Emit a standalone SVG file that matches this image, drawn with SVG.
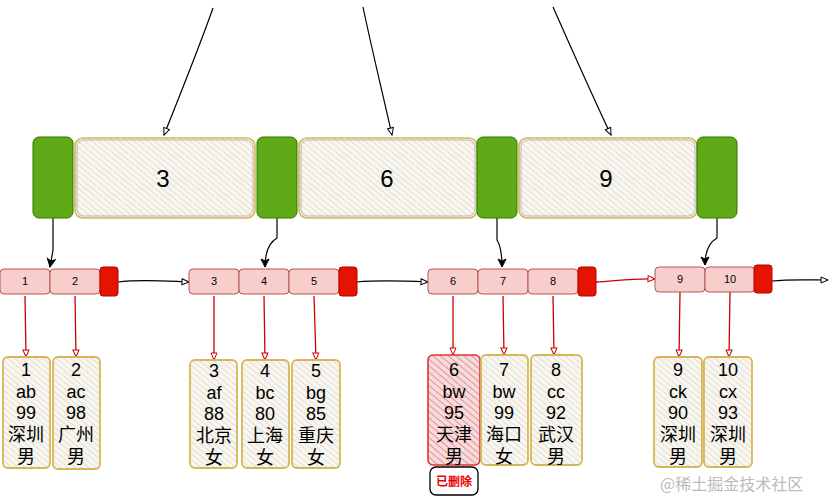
<svg xmlns="http://www.w3.org/2000/svg" width="830" height="501" viewBox="0 0 830 501">
<defs>
<pattern id="hatch" width="4.5" height="4.5" patternUnits="userSpaceOnUse" patternTransform="rotate(-50)">
<rect width="4.5" height="4.5" fill="#f8f6ee"/>
<line x1="0" y1="0" x2="0" y2="4.5" stroke="#bdbab0" stroke-width="0.8"/>
</pattern>
<pattern id="hatchRed" width="5" height="5" patternUnits="userSpaceOnUse" patternTransform="rotate(-50)">
<rect width="5" height="5" fill="#f6dcdc"/>
<line x1="0" y1="0" x2="0" y2="5" stroke="#e06a6a" stroke-width="1.3"/>
</pattern>
<marker id="ab" markerWidth="10" markerHeight="10" refX="8" refY="4" orient="auto" markerUnits="userSpaceOnUse">
<path d="M1,1 L8,4 L1,7 Z" fill="#fff" stroke="#000" stroke-width="1"/>
</marker>
<marker id="abk" markerWidth="12" markerHeight="12" refX="9" refY="5" orient="auto" markerUnits="userSpaceOnUse">
<path d="M1,1 L9,5 L1,9 L3,5 Z" fill="#000" stroke="#000" stroke-width="1"/>
</marker>
<marker id="ar" markerWidth="10" markerHeight="10" refX="8" refY="4" orient="auto" markerUnits="userSpaceOnUse">
<path d="M1,1 L8,4 L1,7 Z" fill="#fff" stroke="#c00" stroke-width="1"/>
</marker>
<style>
.green{fill:#60a917;stroke:#2d7600;stroke-width:1}
.key{fill:url(#hatch);stroke:#d6b656;stroke-width:1.6}
.keyin{fill:none;stroke:#a8a8a8;stroke-width:0.8}
.cell{fill:#f8cecc;stroke:#b85450;stroke-width:1}
.tail{fill:#e51400;stroke:#b20000;stroke-width:1}
.data{fill:url(#hatch);stroke:#d6b656;stroke-width:1.8}
.datadel{fill:url(#hatchRed);stroke:#d33;stroke-width:1.6}
.t{font-family:"Liberation Sans","Noto Sans CJK SC",sans-serif;fill:#000;text-anchor:middle}
.kt{font-size:24px}
.ct{font-size:11px}
.dt{font-size:18px}
.blk{fill:none;stroke:#000;stroke-width:1.2}
.red{fill:none;stroke:#c00;stroke-width:1.3}
</style>
</defs>
<g id="connectors">
<path class="blk" d="M213,8 C200,45 180,95 164,135" marker-end="url(#ab)"/>
<path class="blk" d="M363,7 C372,50 383,95 392,135" marker-end="url(#ab)"/>
<path class="blk" d="M553,7 C570,45 592,95 611,135" marker-end="url(#ab)"/>
<path class="blk" d="M53,218 L53,250 L50,267" marker-end="url(#abk)"/>
<path class="blk" d="M277,218 L277,238 Q265,245 265,267" marker-end="url(#abk)"/>
<path class="blk" d="M497,218 L497,240 Q502,248 502,267" marker-end="url(#abk)"/>
<path class="blk" d="M717,218 L717,238 Q705,245 705,265" marker-end="url(#abk)"/>
<path class="blk" d="M118,282 C140,279 165,281 189,282" marker-end="url(#ab)"/>
<path class="blk" d="M357,282 C380,280 405,281 428,282" marker-end="url(#ab)"/>
<path class="red" d="M596,282 C615,281 635,278 655,279" marker-end="url(#ar)"/>
<path class="blk" d="M772,281 C790,279 810,280 828,280" marker-end="url(#ab)"/>
<path class="red" d="M25,296 L26,357" marker-end="url(#ar)"/>
<path class="red" d="M75,296 L76,357" marker-end="url(#ar)"/>
<path class="red" d="M214,296 L214,360" marker-end="url(#ar)"/>
<path class="red" d="M264,296 L265,360" marker-end="url(#ar)"/>
<path class="red" d="M314,296 L316,360" marker-end="url(#ar)"/>
<path class="red" d="M453,296 L453,355" marker-end="url(#ar)"/>
<path class="red" d="M503,296 L504,355" marker-end="url(#ar)"/>
<path class="red" d="M553,296 L554,355" marker-end="url(#ar)"/>
<path class="red" d="M680,292 L679,357" marker-end="url(#ar)"/>
<path class="red" d="M730,292 L729,357" marker-end="url(#ar)"/>
</g>
<g id="inner-node">
<rect class="green" x="33" y="137" width="40" height="81" rx="6"/>
<rect class="key" x="75" y="138" width="180" height="80" rx="8"/>
<rect class="keyin" x="77" y="140" width="176" height="76" rx="7"/>
<text class="t kt" x="163" y="187">3</text>
<rect class="green" x="257" y="137" width="40" height="81" rx="6"/>
<rect class="key" x="299" y="138" width="178" height="80" rx="8"/>
<rect class="keyin" x="301" y="140" width="174" height="76" rx="7"/>
<text class="t kt" x="387" y="187">6</text>
<rect class="green" x="477" y="137" width="40" height="81" rx="6"/>
<rect class="key" x="519" y="138" width="178" height="80" rx="8"/>
<rect class="keyin" x="521" y="140" width="174" height="76" rx="7"/>
<text class="t kt" x="606" y="187">9</text>
<rect class="green" x="697" y="137" width="40" height="81" rx="6"/>
</g>
<g id="leaf1">
<rect class="cell" x="0" y="269" width="50" height="25" rx="4"/>
<text class="t ct" x="25" y="285">1</text>
<rect class="cell" x="50" y="269" width="50" height="25" rx="4"/>
<text class="t ct" x="75" y="285">2</text>
<rect class="tail" x="100" y="267" width="18" height="29" rx="3"/>
</g>
<g id="leaf2">
<rect class="cell" x="189" y="269" width="50" height="25" rx="4"/>
<text class="t ct" x="214" y="285">3</text>
<rect class="cell" x="239" y="269" width="50" height="25" rx="4"/>
<text class="t ct" x="264" y="285">4</text>
<rect class="cell" x="289" y="269" width="50" height="25" rx="4"/>
<text class="t ct" x="314" y="285">5</text>
<rect class="tail" x="339" y="267" width="18" height="29" rx="3"/>
</g>
<g id="leaf3">
<rect class="cell" x="428" y="269" width="50" height="25" rx="4"/>
<text class="t ct" x="453" y="285">6</text>
<rect class="cell" x="478" y="269" width="50" height="25" rx="4"/>
<text class="t ct" x="503" y="285">7</text>
<rect class="cell" x="528" y="269" width="50" height="25" rx="4"/>
<text class="t ct" x="553" y="285">8</text>
<rect class="tail" x="578" y="267" width="18" height="29" rx="3"/>
</g>
<g id="leaf4">
<rect class="cell" x="655" y="267" width="50" height="25" rx="4"/>
<text class="t ct" x="680" y="283">9</text>
<rect class="cell" x="705" y="267" width="50" height="25" rx="4"/>
<text class="t ct" x="730" y="283">10</text>
<rect class="tail" x="754" y="265" width="18" height="28" rx="3"/>
</g>
<g id="row1">
<rect class="data" x="3" y="357" width="47" height="111" rx="5"/>
<text class="t dt" x="26" y="376">1</text><text class="t dt" x="26" y="398">ab</text><text class="t dt" x="26" y="419">99</text><text class="t dt" x="26" y="441">深圳</text><text class="t dt" x="26" y="463">男</text>
<rect class="data" x="53" y="357" width="47" height="112" rx="5"/>
<text class="t dt" x="76" y="376">2</text><text class="t dt" x="76" y="398">ac</text><text class="t dt" x="76" y="419">98</text><text class="t dt" x="76" y="441">广州</text><text class="t dt" x="76" y="463">男</text>
</g>
<g id="row2">
<rect class="data" x="190" y="360" width="47" height="108" rx="5"/>
<text class="t dt" x="214" y="377">3</text><text class="t dt" x="214" y="399">af</text><text class="t dt" x="214" y="420">88</text><text class="t dt" x="214" y="442">北京</text><text class="t dt" x="214" y="464">女</text>
<rect class="data" x="242" y="360" width="47" height="108" rx="5"/>
<text class="t dt" x="265" y="377">4</text><text class="t dt" x="265" y="399">bc</text><text class="t dt" x="265" y="420">80</text><text class="t dt" x="265" y="442">上海</text><text class="t dt" x="265" y="464">女</text>
<rect class="data" x="292" y="360" width="48" height="108" rx="5"/>
<text class="t dt" x="316" y="377">5</text><text class="t dt" x="316" y="399">bg</text><text class="t dt" x="316" y="420">85</text><text class="t dt" x="316" y="442">重庆</text><text class="t dt" x="316" y="464">女</text>
</g>
<g id="row3">
<rect class="datadel" x="428" y="355" width="52" height="110" rx="5"/>
<text class="t dt" x="454" y="376">6</text><text class="t dt" x="454" y="398">bw</text><text class="t dt" x="454" y="419">95</text><text class="t dt" x="454" y="441">天津</text><text class="t dt" x="454" y="463">男</text>
<rect class="data" x="481" y="355" width="47" height="110" rx="5"/>
<text class="t dt" x="504" y="376">7</text><text class="t dt" x="504" y="398">bw</text><text class="t dt" x="504" y="419">99</text><text class="t dt" x="504" y="441">海口</text><text class="t dt" x="504" y="463">女</text>
<rect class="data" x="531" y="355" width="51" height="110" rx="5"/>
<text class="t dt" x="556" y="376">8</text><text class="t dt" x="556" y="398">cc</text><text class="t dt" x="556" y="419">92</text><text class="t dt" x="556" y="441">武汉</text><text class="t dt" x="556" y="463">男</text>
</g>
<g id="deleted-tag">
<rect x="430" y="467" width="48" height="28" rx="6" fill="#fff" stroke="#000" stroke-width="1.3"/>
<text class="t" x="454" y="486" font-size="12" font-weight="bold" style="fill:#e00">已删除</text>
</g>
<g id="row4">
<rect class="data" x="654" y="357" width="48" height="110" rx="5"/>
<text class="t dt" x="678" y="376">9</text><text class="t dt" x="678" y="398">ck</text><text class="t dt" x="678" y="419">90</text><text class="t dt" x="678" y="441">深圳</text><text class="t dt" x="678" y="463">男</text>
<rect class="data" x="704" y="357" width="48" height="110" rx="5"/>
<text class="t dt" x="728" y="376">10</text><text class="t dt" x="728" y="398">cx</text><text class="t dt" x="728" y="419">93</text><text class="t dt" x="728" y="441">深圳</text><text class="t dt" x="728" y="463">男</text>
</g>
<text x="660" y="490" font-family="'Noto Sans CJK SC',sans-serif" font-size="16" fill="#bbb">@稀土掘金技术社区</text>
</svg>
